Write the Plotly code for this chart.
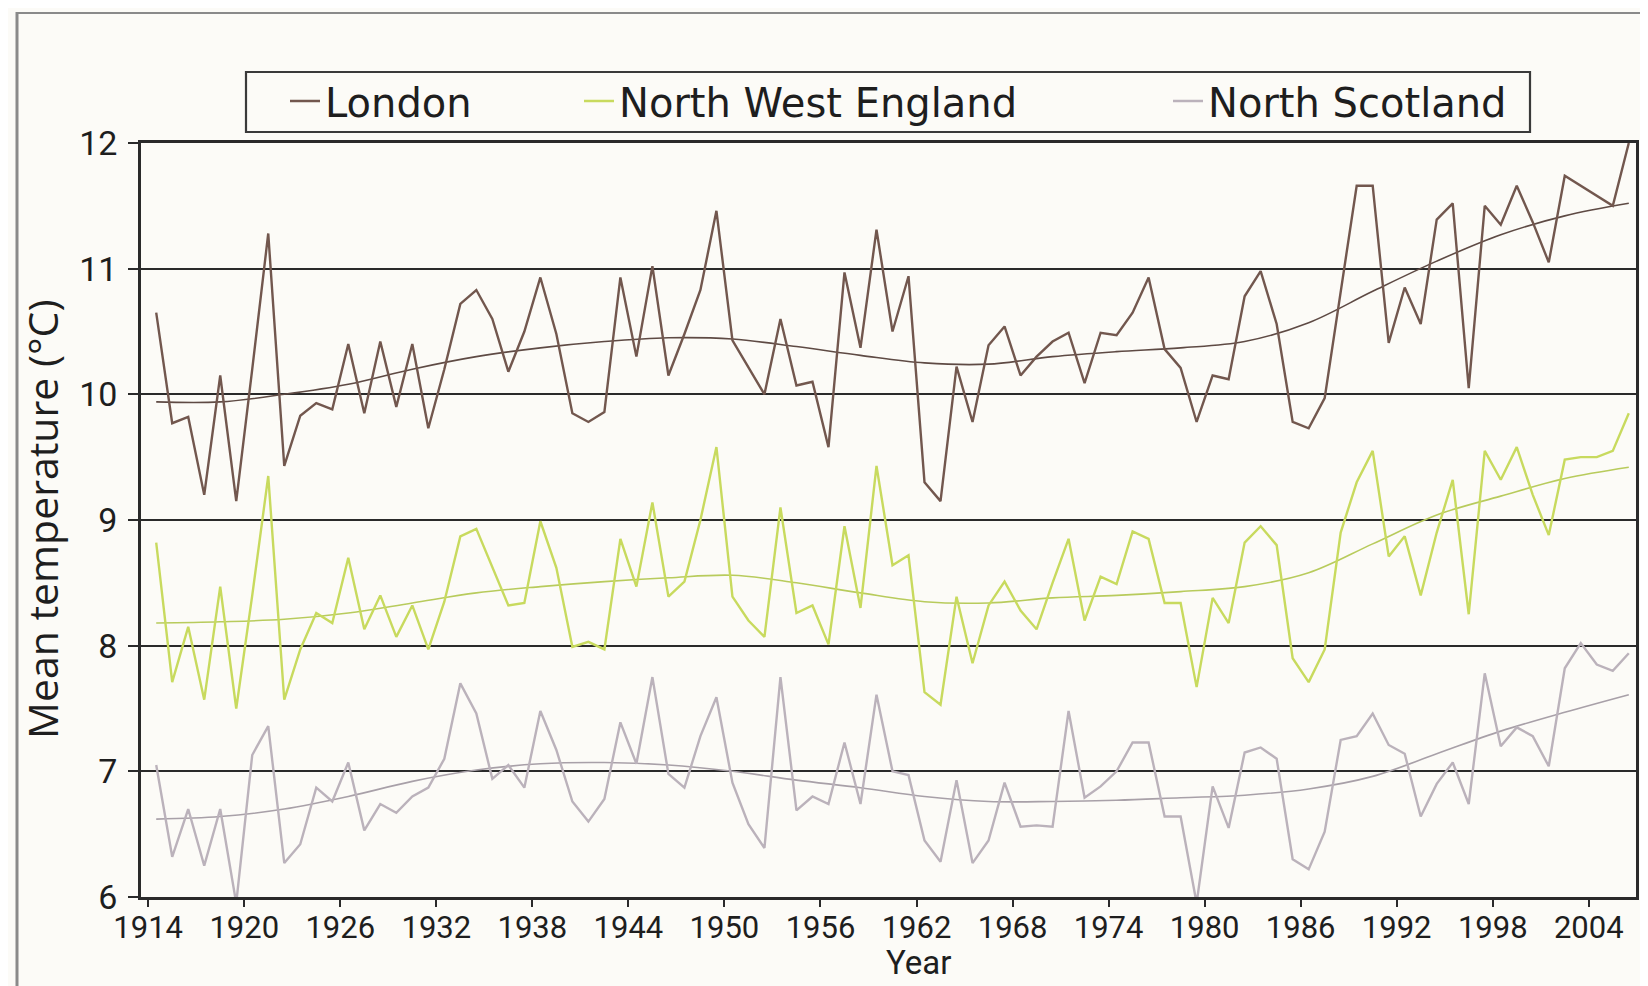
import plotly.graph_objects as go

# ---------------- data (annual mean temperature, °C) ----------------
years = list(range(1914, 2007))

london = [
    10.65, 9.77, 9.82, 9.2, 10.15, 9.15, 10.2, 11.28, 9.43, 9.83,
    9.93, 9.88, 10.4, 9.85, 10.42, 9.9, 10.4, 9.73, 10.2, 10.72,
    10.83, 10.6, 10.18, 10.5, 10.93, 10.48, 9.85, 9.78, 9.86, 10.93,
    10.3, 11.02, 10.15, 10.48, 10.83, 11.46, 10.43, 10.22, 10.0, 10.6,
    10.07, 10.1, 9.58, 10.97, 10.37, 11.31, 10.5, 10.94, 9.3, 9.15,
    10.22, 9.78, 10.39, 10.54, 10.15, 10.3, 10.42, 10.49, 10.09, 10.49,
    10.47, 10.65, 10.93, 10.36, 10.21, 9.78, 10.15, 10.12, 10.78, 10.98,
    10.56, 9.78, 9.73, 9.97, 10.8, 11.66, 11.66, 10.41, 10.85, 10.56,
    11.39, 11.52, 10.05, 11.5, 11.35, 11.66, 11.37, 11.05, 11.74, 11.66,
    11.58, 11.5, 12.0,
]

nw_england = [
    8.82, 7.71, 8.15, 7.57, 8.47, 7.5, 8.4, 9.35, 7.57, 7.97,
    8.26, 8.18, 8.7, 8.13, 8.4, 8.07, 8.32, 7.97, 8.35, 8.87,
    8.93, 8.62, 8.32, 8.34, 8.99, 8.62, 7.99, 8.03, 7.97, 8.85,
    8.47, 9.14, 8.39, 8.51, 9.0, 9.58, 8.39, 8.2, 8.07, 9.1,
    8.26, 8.32, 8.01, 8.95, 8.3, 9.43, 8.64, 8.72, 7.63, 7.53,
    8.39, 7.86, 8.32, 8.51, 8.28, 8.13, 8.5, 8.85, 8.2, 8.55,
    8.49, 8.91, 8.85, 8.34, 8.34, 7.67, 8.38, 8.18, 8.82, 8.95,
    8.8, 7.9, 7.71, 7.97, 8.9, 9.3, 9.55, 8.71, 8.87, 8.4,
    8.9, 9.32, 8.25, 9.55, 9.32, 9.58, 9.2, 8.88, 9.48, 9.5,
    9.5, 9.55, 9.85,
]

n_scotland = [
    7.05, 6.32, 6.7, 6.25, 6.7, 5.95, 7.13, 7.36, 6.27, 6.42,
    6.87, 6.76, 7.07, 6.53, 6.74, 6.67, 6.8, 6.87, 7.1, 7.7,
    7.46, 6.94, 7.05, 6.87, 7.48, 7.17, 6.76, 6.6, 6.78, 7.39,
    7.06, 7.75, 6.98, 6.87, 7.28, 7.59, 6.91, 6.58, 6.39, 7.75,
    6.69, 6.8, 6.74, 7.23, 6.74, 7.61, 7.0, 6.97, 6.45, 6.28,
    6.93, 6.27, 6.45, 6.91, 6.56, 6.57, 6.56, 7.48, 6.79, 6.88,
    7.0, 7.23, 7.23, 6.64, 6.64, 5.95, 6.88, 6.55, 7.15, 7.19,
    7.1, 6.3, 6.22, 6.52, 7.25, 7.28, 7.46, 7.21, 7.14, 6.64,
    6.9, 7.07, 6.74, 7.78, 7.2, 7.35, 7.28, 7.04, 7.82, 8.02,
    7.85, 7.8, 7.94,
]

# smoothed trend curves, read at sample years
trend_years = [1914, 1918, 1922, 1926, 1930, 1934, 1938, 1942, 1946, 1950, 1954, 1958,
               1962, 1966, 1970, 1974, 1978, 1982, 1986, 1990, 1994, 1998, 2002, 2006]
london_trend = [9.94, 9.94, 10.0, 10.08, 10.2, 10.3, 10.37, 10.42, 10.45, 10.44, 10.38, 10.31,
                10.25, 10.24, 10.3, 10.34, 10.37, 10.42, 10.57, 10.82, 11.06, 11.27, 11.42, 11.52]
nw_trend = [8.18, 8.19, 8.21, 8.26, 8.34, 8.42, 8.47, 8.51, 8.54, 8.56, 8.5, 8.42,
            8.35, 8.34, 8.38, 8.4, 8.43, 8.47, 8.58, 8.81, 9.04, 9.19, 9.33, 9.42]
ns_trend = [6.62, 6.64, 6.7, 6.8, 6.92, 7.01, 7.06, 7.07, 7.05, 7.0, 6.93, 6.87,
            6.8, 6.76, 6.76, 6.77, 6.79, 6.81, 6.86, 6.96, 7.14, 7.32, 7.47, 7.61]

tick_years = list(range(1914, 2005, 6))
y_ticks = [6, 7, 8, 9, 10, 11, 12]

series_names = ["London", "North West England", "North Scotland"]
# --------------------------------------------------------------------

assert len(london) == len(years) == len(nw_england) == len(n_scotland)

# annual means are plotted at mid-year
x_mid = [y + 0.5 for y in years]
x_trend = [y + 0.5 for y in trend_years]

colors = ["#72574e", "#c8da5e", "#bbb2bb"]
trend_colors = ["#5e4a44", "#b8cb5c", "#a8a0a8"]
FONT = "Roboto"
WFONT = "Open Sans"
LFONT = "DejaVu Sans"

fig = go.Figure()
for name, vals, tr, c, tc, lg in zip(series_names, [london, nw_england, n_scotland],
                                     [london_trend, nw_trend, ns_trend], colors, trend_colors,
                                     ["legend", "legend2", "legend3"]):
    fig.add_trace(go.Scatter(x=x_trend, y=tr, mode="lines", line=dict(color=tc, width=1.6, shape="spline"),
                             showlegend=False, hoverinfo="skip"))
    fig.add_trace(go.Scatter(x=x_mid, y=vals, mode="lines", name=name,
                             line=dict(color=c, width=2.4), legend=lg))

W, H = 1648, 986
L, R, T, B = 133, 20, 135, 97
pw, ph = W - L - R, H - T - B


def px_x(p):
    return (p - L) / pw


def px_y(p):
    return (H - B - p) / ph


leg_common = dict(orientation="h", yanchor="middle", xanchor="left", bgcolor="rgba(0,0,0,0)",
                  borderwidth=0, font=dict(family=LFONT, size=40, color="#1e1e1e"),
                  itemwidth=30)
fig.update_layout(
    width=W, height=H,
    margin=dict(l=L, r=R, t=T, b=B),
    paper_bgcolor="#fcfbf7", plot_bgcolor="#fcfbf7",
    font=dict(family=FONT, color="#1e1e1e"),
    legend=dict(x=px_x(277), y=px_y(93), **leg_common),
    legend2=dict(x=px_x(571), y=px_y(93), **leg_common),
    legend3=dict(x=px_x(1160), y=px_y(93), **leg_common),
    xaxis=dict(range=[1913.55, 2006.95], tickmode="array", tickvals=tick_years,
               ticktext=[str(t) for t in tick_years], ticks="outside", ticklen=7, tickwidth=2,
               ticklabelstandoff=-6,
               tickcolor="#2a2a2a", showgrid=False, zeroline=False,
               showline=True, linecolor="#2a2a2a", linewidth=2.5, mirror=True,
               tickfont=dict(family=FONT, size=31, color="#1e1e1e")),
    yaxis=dict(range=[6, 12], tickmode="array", tickvals=y_ticks, ticks="outside", ticklen=10,
               tickwidth=2, tickcolor="#2a2a2a", showgrid=True, gridcolor="#2a2a2a", gridwidth=1.9,
               ticklabelstandoff=4,
               zeroline=False, showline=True, linecolor="#2a2a2a", linewidth=2.5, mirror=True,
               tickfont=dict(family=FONT, size=34, color="#1e1e1e")),
    annotations=[
        dict(text="Mean temperature (°C)", x=px_x(34), y=0.5, xref="paper", yref="paper",
             textangle=-90, showarrow=False, font=dict(family=WFONT, size=41, color="#1e1e1e"),
             xanchor="center", yanchor="middle"),
        dict(text="Year", x=px_x(910), y=px_y(954), xref="paper", yref="paper", showarrow=False,
             font=dict(family=FONT, size=33, color="#1e1e1e"), xanchor="center", yanchor="middle",
             borderpad=0),
    ],
    shapes=[
        dict(type="rect", xref="paper", yref="paper", x0=px_x(238), x1=px_x(1522),
             y0=px_y(124), y1=px_y(64), line=dict(color="#3a3a3a", width=2.2), fillcolor="rgba(0,0,0,0)"),
        dict(type="line", xref="paper", yref="paper", x0=px_x(9), x1=px_x(9), y0=px_y(4), y1=px_y(990),
             line=dict(color="#8a8a8a", width=3)),
        dict(type="line", xref="paper", yref="paper", x0=px_x(9), x1=px_x(1650), y0=px_y(5), y1=px_y(5),
             line=dict(color="#8a8a8a", width=2)),
    ],
)

fig.write_html("out.html")
